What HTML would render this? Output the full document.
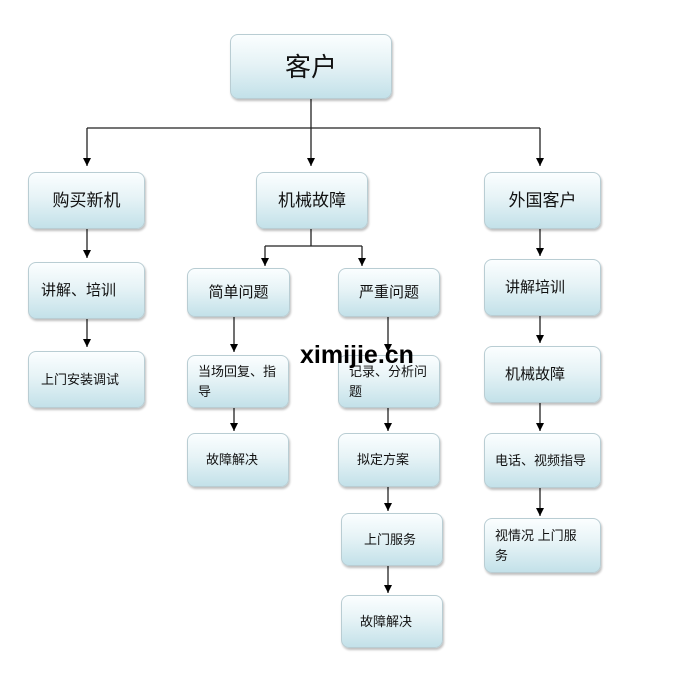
<!DOCTYPE html>
<html><head><meta charset="utf-8"><style>
body{margin:0;width:692px;height:679px;background:#fff;position:relative;overflow:hidden;font-family:"Liberation Sans","Noto Sans CJK SC",sans-serif;color:#111}
.b{position:absolute;box-sizing:border-box;border:1px solid #b9cdd3;border-radius:8px;background:linear-gradient(#fbfeff 0%,#e6f3f6 45%,#c3e1e9 100%);box-shadow:1px 2px 2px rgba(0,0,0,.25);display:flex;align-items:center;padding-left:12px;font-size:15px;line-height:20px}
.c{justify-content:center;padding-left:0}
.s{font-size:13px}
svg{position:absolute;left:0;top:0}
.wm{position:absolute;left:300px;top:341px;font:bold 25px "Liberation Sans",sans-serif;color:#000;letter-spacing:0}
</style></head><body>
<svg width="692" height="679">
<defs><marker id="a" markerWidth="9" markerHeight="9" refX="8" refY="4" orient="auto" markerUnits="userSpaceOnUse"><path d="M0,0 L8,4 L0,8z" fill="#000"/></marker></defs>
<g stroke="#222" stroke-width="1.3" fill="none">
<path d="M311,99 V128 M87,128 H540"/>
<path d="M87,128 V166" marker-end="url(#a)"/>
<path d="M311,128 V166" marker-end="url(#a)"/>
<path d="M540,128 V166" marker-end="url(#a)"/>
<path d="M87,229 V258" marker-end="url(#a)"/>
<path d="M87,319 V347" marker-end="url(#a)"/>
<path d="M311,229 V246 M265,246 H362"/>
<path d="M265,246 V266" marker-end="url(#a)"/>
<path d="M362,246 V266" marker-end="url(#a)"/>
<path d="M234,317 V352" marker-end="url(#a)"/>
<path d="M388,317 V352" marker-end="url(#a)"/>
<path d="M234,408 V431" marker-end="url(#a)"/>
<path d="M388,408 V431" marker-end="url(#a)"/>
<path d="M388,487 V511" marker-end="url(#a)"/>
<path d="M388,566 V593" marker-end="url(#a)"/>
<path d="M540,229 V256" marker-end="url(#a)"/>
<path d="M540,316 V343" marker-end="url(#a)"/>
<path d="M540,403 V431" marker-end="url(#a)"/>
<path d="M540,488 V516" marker-end="url(#a)"/>
</g></svg>
<div class="b c" style="left:230px;top:34px;width:162px;height:65px;font-size:26px">客户</div>
<div class="b c" style="left:28px;top:172px;width:117px;height:57px;font-size:17px">购买新机</div>
<div class="b c" style="left:256px;top:172px;width:112px;height:57px;font-size:17px">机械故障</div>
<div class="b c" style="left:484px;top:172px;width:117px;height:57px;font-size:17px">外国客户</div>
<div class="b" style="left:28px;top:262px;width:117px;height:57px">讲解、培训</div>
<div class="b s" style="left:28px;top:351px;width:117px;height:57px">上门安装调试</div>
<div class="b c" style="left:187px;top:268px;width:103px;height:49px">简单问题</div>
<div class="b c" style="left:338px;top:268px;width:102px;height:49px">严重问题</div>
<div class="b s" style="left:187px;top:355px;width:102px;height:53px;padding-left:10px">当场回复、指导</div>
<div class="b s" style="left:338px;top:355px;width:102px;height:53px;padding-left:10px">记录、分析问题</div>
<div class="b s" style="left:187px;top:433px;width:102px;height:54px;padding-left:18px">故障解决</div>
<div class="b s" style="left:338px;top:433px;width:102px;height:54px;padding-left:18px">拟定方案</div>
<div class="b s" style="left:341px;top:513px;width:102px;height:53px;padding-left:22px">上门服务</div>
<div class="b s" style="left:341px;top:595px;width:102px;height:53px;padding-left:18px">故障解决</div>
<div class="b" style="left:484px;top:259px;width:117px;height:57px;padding-left:20px">讲解培训</div>
<div class="b" style="left:484px;top:346px;width:117px;height:57px;padding-left:20px">机械故障</div>
<div class="b s" style="left:484px;top:433px;width:117px;height:55px;padding-left:10px">电话、视频指导</div>
<div class="b s" style="left:484px;top:518px;width:117px;height:55px;padding-left:10px;padding-right:16px">视情况 上门服务</div>
<div class="wm">ximijie.cn</div>
</body></html>
